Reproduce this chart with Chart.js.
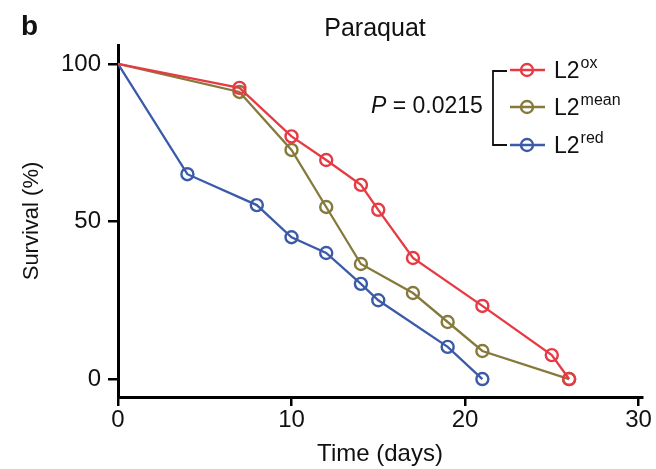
<!DOCTYPE html>
<html>
<head>
<meta charset="utf-8">
<script src="https://cdn.jsdelivr.net/npm/chart.js@4"></script>
<style>
  html, body { margin: 0; padding: 0; background: #fff; }
  #wrap { width: 656px; height: 469px; }
</style>
</head>
<body>
<div id="wrap"><canvas id="myChart"></canvas></div>
<script>
const oxDays = [0, 7, 10, 12, 14, 15, 17, 21, 25, 26];
const oxSurvival = [100, 92.4, 77, 69.5, 61.6, 53.7, 38.4, 23.2, 7.6, 0];

const meanDays = [0, 7, 10, 12, 14, 17, 19, 21, 26];
const meanSurvival = [100, 91.1, 72.7, 54.6, 36.5, 27.3, 18.1, 8.9, 0];

const redDays = [0, 4, 8, 10, 12, 14, 15, 19, 21];
const redSurvival = [100, 65, 55.2, 45, 40, 30.2, 25, 10.2, 0];

const xTicks = [0, 10, 20, 30];
const yTicks = [0, 50, 100];

const RED = "#e63a44";
const OLIVE = "#857a3c";
const BLUE = "#3b5ba8";
const FONT = "'Liberation Sans', Arial, Helvetica, sans-serif";

function points(xs, ys) {
    return xs.map((x, i) => ({ x: x, y: ys[i] }));
}

function series(label, xs, ys, color) {
    return {
        label: label,
        data: points(xs, ys),
        borderColor: color,
        backgroundColor: "transparent",
        borderWidth: 2.3,
        pointRadius: (c) => (c.dataIndex === 0 ? 0 : 6),
        pointBorderWidth: 2.4,
        pointBackgroundColor: "transparent",
        pointBorderColor: color,
        tension: 0,
    };
}

// title, panel letter and bracketed legend
const annotations = {
    id: "annotations",
    afterDraw(chart) {
        const c = chart.ctx;
        c.save();
        c.fillStyle = "#111";
        c.textBaseline = "middle";

        c.font = "bold 28px " + FONT;
        c.textAlign = "left";
        c.fillText("b", 21, 27);

        c.font = "25px " + FONT;
        c.textAlign = "center";
        c.fillText("Paraquat", 375, 29);

        // P value
        c.textAlign = "left";
        c.font = "italic 23px " + FONT;
        c.fillText("P", 371, 107);
        const pw = c.measureText("P").width;
        c.font = "23px " + FONT;
        c.fillText(" = 0.0215", 371 + pw, 107);

        // bracket
        c.strokeStyle = "#111";
        c.lineWidth = 1.8;
        c.beginPath();
        c.moveTo(507, 71);
        c.lineTo(493, 71);
        c.lineTo(493, 145);
        c.lineTo(507, 145);
        c.stroke();

        const items = [
            { y: 70, color: RED, sup: "ox" },
            { y: 107, color: OLIVE, sup: "mean" },
            { y: 145, color: BLUE, sup: "red" },
        ];
        items.forEach((it) => {
            c.strokeStyle = it.color;
            c.lineWidth = 2.4;
            c.beginPath();
            c.moveTo(510, it.y);
            c.lineTo(545, it.y);
            c.stroke();
            c.beginPath();
            c.arc(527, it.y, 6, 0, Math.PI * 2);
            c.stroke();

            c.fillStyle = "#111";
            c.font = "23px " + FONT;
            c.textBaseline = "middle";
            c.fillText("L2", 554, it.y + 2);
            const w = c.measureText("L2").width;
            c.font = "16px " + FONT;
            c.fillText(it.sup, 554 + w + 1, it.y - 6);
        });
        c.restore();
    },
};

const ctx = document.getElementById("myChart");

new Chart(ctx, {
    type: "line",
    data: {
        datasets: [
            series("L2ox", oxDays, oxSurvival, RED),
            series("L2mean", meanDays, meanSurvival, OLIVE),
            series("L2red", redDays, redSurvival, BLUE),
        ],
    },
    options: {
        responsive: true,
        maintainAspectRatio: false,
        animation: false,
        layout: {
            padding: { top: 45, right: 14, left: 0, bottom: 0 },
        },
        plugins: {
            legend: { display: false },
            tooltip: { enabled: false },
        },
        scales: {
            x: {
                type: "linear",
                min: 0,
                max: 30.2,
                afterBuildTicks: (s) => {
                    s.ticks = xTicks.map((v) => ({ value: v }));
                },
                afterFit: (s) => {
                    s.height = 72;
                },
                border: { display: true, color: "#000", width: 3 },
                grid: {
                    drawOnChartArea: false,
                    drawTicks: true,
                    tickLength: 9,
                    lineWidth: 2.5,
                    color: "#000",
                },
                ticks: {
                    color: "#111",
                    font: { family: FONT, size: 24 },
                    padding: 0,
                    maxRotation: 0,
                },
                title: {
                    display: true,
                    text: "Time (days)",
                    color: "#111",
                    font: { family: FONT, size: 24 },
                    padding: { top: 0, bottom: 0 },
                },
            },
            y: {
                type: "linear",
                min: -5.7,
                max: 106,
                afterBuildTicks: (s) => {
                    s.ticks = yTicks.map((v) => ({ value: v }));
                },
                afterFit: (s) => {
                    s.width = 118;
                },
                border: { display: true, color: "#000", width: 3 },
                grid: {
                    drawOnChartArea: false,
                    drawTicks: true,
                    tickLength: 10,
                    lineWidth: 2.5,
                    color: "#000",
                },
                ticks: {
                    color: "#111",
                    font: { family: FONT, size: 24 },
                    padding: 7,
                },
                title: {
                    display: true,
                    text: "Survival (%)",
                    color: "#111",
                    font: { family: FONT, size: 22 },
                    padding: { top: 19, bottom: 0 },
                },
            },
        },
    },
    plugins: [annotations],
});
</script>
</body>
</html>
